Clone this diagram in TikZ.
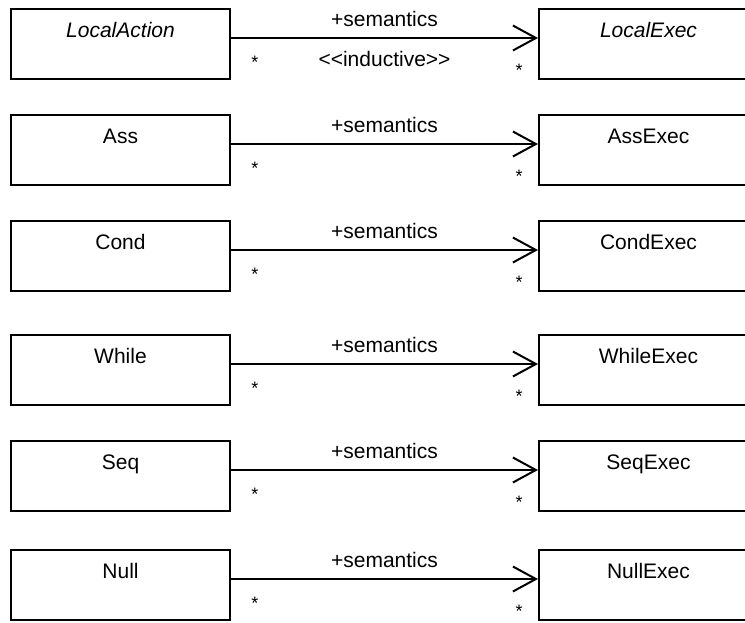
\documentclass[tikz,border=0pt]{standalone}
\usepackage{fontspec}
\setmainfont{Liberation Sans}
\usetikzlibrary{arrows.meta}
\begin{document}
\begin{tikzpicture}[x=1pt,y=-1pt,
  font=\fontsize{21pt}{25pt}\selectfont,
  classbox/.style={draw, line width=2pt, rectangle, anchor=north west,
    minimum width=219pt, inner ysep=0pt, text height=28pt, text depth=42pt},
  assoc/.style={line width=2pt,
    -{Straight Barb[length=23pt,width=25pt,line width=2pt]}},
  role/.style={anchor=base, yshift=12pt},
  stereo/.style={anchor=base, yshift=-28pt},
  mult/.style={anchor=base, inner sep=0pt, font=\fontsize{18pt}{20pt}\selectfont}]
\useasboundingbox (0,0) rectangle (745,622);
\clip (0,0) rectangle (745,622);
% one association per row: source class on the left, execution class on the right
\foreach \top/\src/\dst/\name [count=\i] in {
    8/{\itshape LocalAction}/{\itshape LocalExec}/la,
    114/Ass/AssExec/ass,
    220/Cond/CondExec/cond,
    334/While/WhileExec/while,
    440/Seq/SeqExec/seq,
    549/Null/NullExec/null} {
  \node[classbox] (\name) at (10,\top) {\src};
  \node[classbox] (\name E) at (538,\top) {\dst};
  \draw[assoc] ([yshift=6pt]\name.east) -- ([yshift=6pt]\name E.west)
    node[midway, role] (\name role) {+semantics};
  \node[mult] (\name m1) at ([xshift=24pt,yshift=-24pt]\name.east) {*};
  \node[mult] (\name m2) at ([xshift=-19pt,yshift=-32pt]\name E.west) {*};
}
\path ([yshift=6pt]la.east) -- ([yshift=6pt]laE.west)
  node[midway, stereo] (lastereo) {<{}<inductive>{}>};
\end{tikzpicture}
\end{document}
